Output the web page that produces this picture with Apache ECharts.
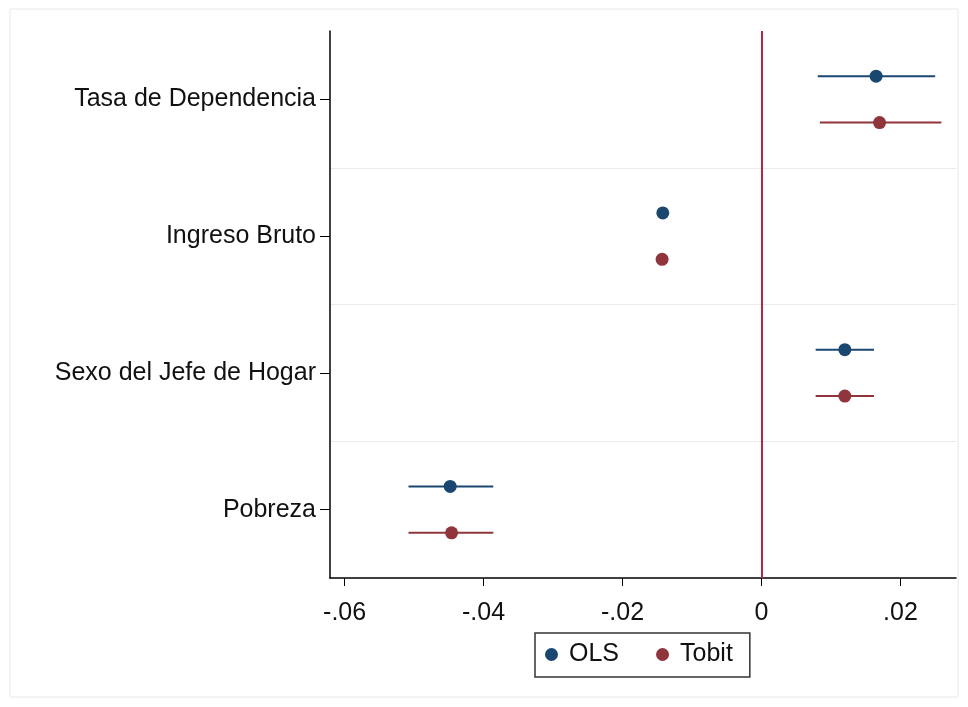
<!DOCTYPE html>
<html>
<head>
<meta charset="utf-8">
<script src="https://cdn.jsdelivr.net/npm/echarts@6/dist/echarts.min.js"></script>
<style>
html,body{margin:0;padding:0;background:#fff;}
#main{width:968px;height:707px;}
</style>
</head>
<body>
<div id="main"></div>
<script>
// variables, top to bottom
var categories = ['Tasa de Dependencia', 'Ingreso Bruto', 'Sexo del Jefe de Hogar', 'Pobreza'];
// point estimates and confidence bounds
var olsEst = [0.0165, -0.0142, 0.0120, -0.0448];
var olsLo  = [0.0081, -0.0145, 0.0078, -0.0508];
var olsHi  = [0.0250, -0.0139, 0.0162, -0.0386];
var tobitEst = [0.0170, -0.0143, 0.0120, -0.0446];
var tobitLo  = [0.0084, -0.0146, 0.0078, -0.0508];
var tobitHi  = [0.0259, -0.0140, 0.0162, -0.0386];
var xTicks = [-0.06, -0.04, -0.02, 0, 0.02];

var FONT = '"Liberation Sans", Arial, sans-serif';
var OLS_COLOR = '#1a476f';
var TOBIT_COLOR = '#90353b';

function buildData(est, lo, hi) {
	var out = [];
	for (var i = 0; i < est.length; i++) {
		out.push([est[i], i, lo[i], hi[i]]);
	}
	return out;
}

// draw CI line + dot, shifted up/down inside the category band
function makeRender(shift, color) {
	return function(params, api) {
		var band = api.size([0, 1])[1];
		var c = api.coord([api.value(0), api.value(1)]);
		var lo = api.coord([api.value(2), api.value(1)]);
		var hi = api.coord([api.value(3), api.value(1)]);
		var y = c[1] + shift * band;
		return {
			type: 'group',
			children: [
				{ type: 'line', shape: { x1: lo[0], y1: y, x2: hi[0], y2: y }, style: { stroke: color, lineWidth: 2 } },
				{ type: 'circle', shape: { cx: c[0], cy: y, r: 6.5 }, style: { fill: color } }
			]
		};
	};
}

function fmt(v) {
	if (v === 0) return '0';
	return String(+v.toFixed(2)).replace('0.', '.');
}

var myChart = echarts.init(document.getElementById('main'));

var option = {
	backgroundColor: '#fff',
	animation: false,
	graphic: [{
		type: 'rect',
		shape: { x: 10, y: 9, width: 948, height: 688 },
		style: { fill: 'none', stroke: '#e8e8e8', lineWidth: 1 },
		silent: true
	}],
	grid: { left: 330, right: 12, top: 31, bottom: 129 },
	legend: {
		left: 535,
		top: 633,
		padding: [9, 17, 10, 10],
		borderColor: '#333',
		borderWidth: 1.5,
		itemGap: 37,
		itemWidth: 13,
		itemHeight: 13,
		icon: 'circle',
		textStyle: { fontFamily: FONT, fontSize: 25, color: '#111', padding: [0, 0, 0, 6] },
		data: [
			{ name: 'OLS', itemStyle: { color: OLS_COLOR } },
			{ name: 'Tobit', itemStyle: { color: TOBIT_COLOR } }
		]
	},
	xAxis: {
		type: 'value',
		min: -0.0621,
		max: 0.028,
		axisLine: { show: true, onZero: false, lineStyle: { color: '#000', width: 1.5 } },
		axisTick: { show: true, length: 8, customValues: xTicks, lineStyle: { color: '#000' } },
		axisLabel: {
			customValues: xTicks,
			formatter: fmt,
			margin: 23,
			fontFamily: FONT,
			fontSize: 25,
			color: '#111'
		},
		splitLine: { show: false }
	},
	yAxis: {
		type: 'category',
		inverse: true,
		data: categories,
		axisLine: { show: true, onZero: false, lineStyle: { color: '#000', width: 1.5 } },
		axisTick: { show: true, alignWithLabel: true, length: 10, lineStyle: { color: '#000' } },
		axisLabel: { margin: 14, fontFamily: FONT, fontSize: 25, color: '#111' },
		splitLine: { show: true, showMinLine: false, showMaxLine: false, lineStyle: { color: '#eaeaea', width: 1 } }
	},
	series: [
		{
			name: 'OLS',
			type: 'custom',
			itemStyle: { color: OLS_COLOR },
			renderItem: makeRender(-0.17, OLS_COLOR),
			encode: { x: [0, 2, 3], y: 1 },
			data: buildData(olsEst, olsLo, olsHi),
			markLine: {
				silent: true,
				symbol: 'none',
				label: { show: false },
				lineStyle: { color: '#b02a45', width: 2, type: 'solid' },
				data: [{ xAxis: 0 }]
			}
		},
		{
			name: 'Tobit',
			type: 'custom',
			itemStyle: { color: TOBIT_COLOR },
			renderItem: makeRender(0.17, TOBIT_COLOR),
			encode: { x: [0, 2, 3], y: 1 },
			data: buildData(tobitEst, tobitLo, tobitHi)
		}
	]
};

myChart.setOption(option);
</script>
</body>
</html>
